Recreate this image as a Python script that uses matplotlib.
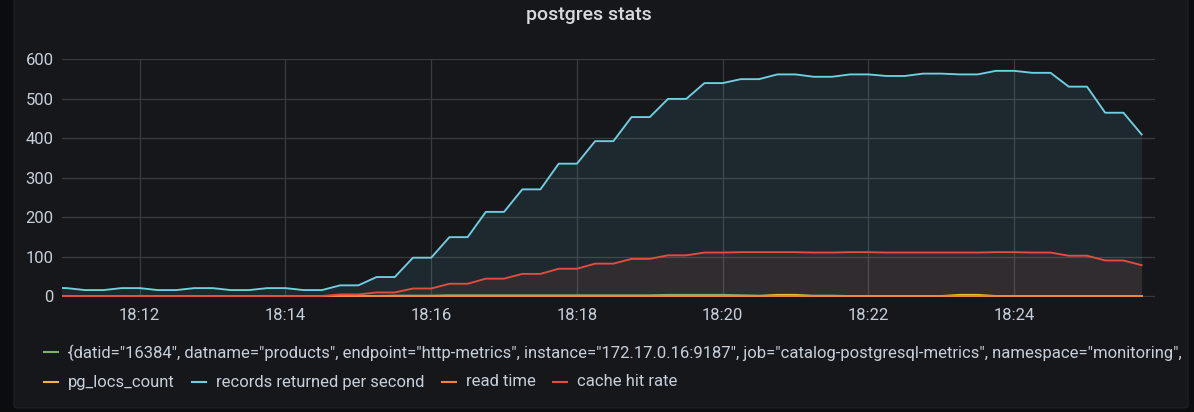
import matplotlib
matplotlib.use("Agg")
import matplotlib.pyplot as plt
import matplotlib.dates as mdates
from matplotlib.patches import FancyBboxPatch, Rectangle
from matplotlib.lines import Line2D
import pandas as pd

plt.rcParams['font.family'] = ['Roboto', 'DejaVu Sans']

W, H = 1194, 412

# samples every 15 s, 18:10:45 -> 18:25:45
times = pd.date_range('2021-06-01 18:10:45', '2021-06-01 18:25:45', freq='15s')

green_series = [0, 0, 0, 0, 0, 0, 0, 0, 0, 0, 0, 0, 0, 0, 0, 0,
                0, 0, 0, 1, 1, 1, 2, 2, 2, 2, 2, 2, 2, 2, 2, 2,
                2, 2, 3, 3, 3, 3, 2, 1, 1, 1, 1, 1, 0, 0, 0, 0,
                0, 0, 0, 0, 0, 0, 0, 0, 0, 0, 0, 0, 0]
pg_locs_count = [0, 0, 0, 0, 0, 0, 0, 0, 0, 0, 0, 0, 0, 0, 0, 0,
                 0, 0, 0, 0, 0, 0, 0, 0, 0, 0, 0, 0, 0, 0, 0, 0,
                 0, 0, 0, 0, 0, 0, 0, 0, 3, 3, 0, 0, 0, 0, 0, 0,
                 0, 0, 3, 3, 0, 0, 0, 0, 0, 0, 0, 0, 0]
records_per_sec = [21, 20, 15, 15, 20, 20, 15, 15, 20, 20, 15, 15, 20, 20, 15, 15,
                   27, 27, 48, 48, 97, 97, 149, 149, 213, 213, 270, 270, 335, 335,
                   392, 392, 453, 453, 499, 499, 539, 539, 549, 549, 561, 561,
                   555, 555, 561, 561, 557, 557, 563, 563, 561, 561, 570, 570,
                   565, 565, 530, 530, 464, 464, 409]
read_time = [0, 0, 0, 0, 0, 0, 0, 0, 0, 0, 0, 0, 0, 0, 0, 0,
             0, 0, 0, 0, 0, 0, 0, 0, 0, 0, 0, 0, 0, 0, 0, 0,
             0, 0, 0, 0, 0, 0, 0, 0, 0, 0, 0, 0, 0, 0, 0, 0,
             0, 0, 0, 0, 0, 0, 0, 0, 0, 0, 0, 0, 0]
cache_hit_rate = [0, 0, 0, 0, 0, 0, 0, 0, 0, 0, 0, 0, 0, 0, 0, 0,
                  4, 4, 9, 9, 19, 19, 31, 31, 44, 44, 56, 56, 69, 69,
                  82, 82, 94, 94, 103, 103, 110, 110, 111, 111, 111, 111,
                  110, 110, 111, 111, 110, 110, 110, 110, 110, 110, 111, 111,
                  110, 110, 102, 102, 90, 90, 78]

series = [green_series, pg_locs_count, records_per_sec, read_time, cache_hit_rate]
colors = ['#7EB26D', '#EAB839', '#6ED0E0', '#EF843C', '#E24D42']
legend_labels = ['{datid="16384", datname="products", endpoint="http-metrics", '
                 'instance="172.17.0.16:9187", job="catalog-postgresql-metrics", '
                 'namespace="monitoring", pod="catalog-postgresql-0", service="catalog-postgresql-metrics"}',
                 'pg_locs_count', 'records returned per second', 'read time', 'cache hit rate']
y_ticks = [0, 100, 200, 300, 400, 500, 600]

page_bg = '#0b0c0e'
panel_bg = '#16171b'
text_col = '#c7d0d9'
grid_col = '#3a3b3f'


def fx(x):
    return x / W


def fy(y):
    return 1 - y / H


fig = plt.figure(figsize=(W / 100, H / 100), dpi=100, facecolor=page_bg)

panel = FancyBboxPatch((fx(14), fy(408)), fx(1188) - fx(14), 1.05 - fy(408),
                       boxstyle='round,pad=0,rounding_size=0.004',
                       transform=fig.transFigure, facecolor=panel_bg,
                       edgecolor='#202226', linewidth=0.8, zorder=-10)
fig.patches.append(panel)

fig.text(fx(589), fy(15), 'postgres stats', ha='center', va='center',
         color='#d8d9da', fontsize=14, fontweight='medium')

# ylim starts a touch below zero so the baseline series stay fully visible
ax = fig.add_axes([fx(62), fy(297), fx(1155) - fx(62), fy(59) - fy(297)])
ax.set_facecolor('none')

for vals, c in zip(series, colors):
    ax.fill_between(times, 0, vals, color=c, alpha=0.1, linewidth=0)
    ax.plot(times, vals, color=c, linewidth=1.35)

ax.set_ylim(-2.5, 600)
ax.set_xlim(pd.Timestamp('2021-06-01 18:10:56'), pd.Timestamp('2021-06-01 18:25:56'))
ax.set_yticks(y_ticks)
ax.xaxis.set_major_locator(mdates.MinuteLocator(byminute=range(0, 60, 2)))
ax.xaxis.set_major_formatter(mdates.DateFormatter('%H:%M'))
ax.grid(True, color=grid_col, linewidth=0.9)
ax.set_axisbelow(True)
for s in ax.spines.values():
    s.set_visible(False)
ax.tick_params(axis='both', length=0, colors=text_col, labelsize=12)
ax.tick_params(axis='y', pad=6)
ax.tick_params(axis='x', pad=8)

# legend rows
clip = Rectangle((0, 0), fx(1183), 1, transform=fig.transFigure)
legend_pos = [(44, 352), (44, 382), (192, 382), (442, 382), (553, 382)]
for (lx, ly), lab, c in zip(legend_pos, legend_labels, colors):
    fig.lines.append(Line2D([fx(lx), fx(lx + 14)], [fy(ly), fy(ly)],
                            transform=fig.transFigure, color=c, linewidth=1.5))
    t = fig.text(fx(lx + 24), fy(ly), lab, ha='left', va='center',
                 color=text_col, fontsize=12)
    t.set_clip_path(clip)

fig.savefig('out.png', dpi=100, facecolor=page_bg)
